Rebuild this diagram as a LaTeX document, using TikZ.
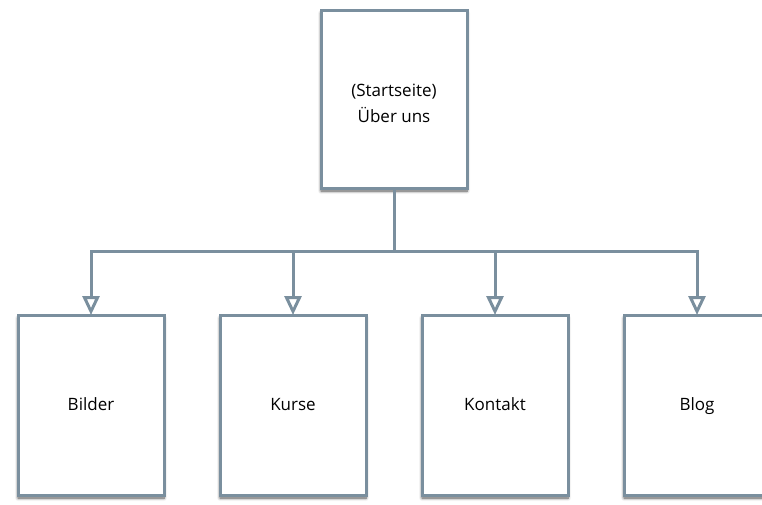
\documentclass[tikz,border=0pt]{standalone}
\usepackage{fontspec}
\setmainfont{Open Sans}
\usetikzlibrary{arrows.meta, positioning, shadows.blur}
\definecolor{boxgray}{RGB}{122,143,158}

\begin{document}
\begin{tikzpicture}[x=1pt, y=-1pt, >={Triangle[open, width=17pt, length=19pt]},
    page/.style={draw=boxgray, line width=3pt, fill=white, minimum width=146pt,
      minimum height=180pt, align=center, inner sep=0pt, outer sep=0pt,
      font=\fontsize{17}{26}\selectfont,
      blur shadow={shadow xshift=0pt, shadow yshift=-3pt, shadow blur radius=3pt,
        shadow blur steps=6, shadow opacity=70}},
    link/.style={draw=boxgray, line width=3pt}]
     \useasboundingbox (0,0) rectangle (762,504);
     \clip (0,0) rectangle (762,504);

     \node[page, minimum height=178pt] (start)   at (394,99)    {(Startseite)\\Über uns\\[-34pt]\mbox{}};
     \node[page]                      (bilder)  at (91,405)    {\strut Bilder};
     \node[page]                      (kurse)   [right=56pt of bilder]  {\strut Kurse};
     \node[page]                      (kontakt) [right=56pt of kurse]   {\strut Kontakt};
     \node[page]                      (blog)    [right=56pt of kontakt] {\strut Blog};

     \coordinate (bar) at (start.south |- 0,251);

     \draw[link] (start.south) -- (bar);
     \draw[link, ->] (bar) -| (bilder.north);
     \draw[link, ->] (bar) -| (kurse.north);
     \draw[link, ->] (bar) -| (kontakt.north);
     \draw[link, ->] (bar) -| (blog.north);
\end{tikzpicture}
\end{document}
